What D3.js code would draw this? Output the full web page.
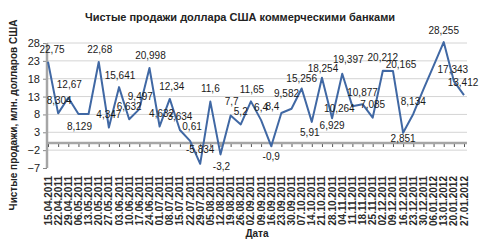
<!DOCTYPE html>
<html>
<head>
<meta charset="utf-8">
<script src="https://cdn.jsdelivr.net/npm/d3@7"></script>
<style>
  body { margin: 0; background: #fff; }
  svg { display: block; font-family: "Liberation Sans", Arial, sans-serif; }
</style>
</head>
<body>
<div id="chart"></div>
<script>
var dates = [
    "15.04.2011", "22.04.2011", "29.04.2011", "06.05.2011", "13.05.2011", "20.05.2011",
    "27.05.2011", "03.06.2011", "10.06.2011", "17.06.2011", "24.06.2011", "01.07.2011",
    "08.07.2011", "15.07.2011", "22.07.2011", "29.07.2011", "05.08.2011", "12.08.2011",
    "19.08.2011", "26.08.2011", "02.09.2011", "09.09.2011", "16.09.2011", "23.09.2011",
    "30.09.2011", "07.10.2011", "14.10.2011", "21.10.2011", "28.10.2011", "04.11.2011",
    "11.11.2011", "18.11.2011", "25.11.2011", "02.12.2011", "09.12.2011", "16.12.2011",
    "23.12.2011", "30.12.2011", "06.01.2012", "13.01.2012", "20.01.2012", "27.01.2012"
];
var sales = [
    22.75, 8.304, 12.67, 8.129, 8.129, 22.68,
    4.347, 15.641, 6.632, 9.497, 20.998, 4.632,
    12.34, 3.634, 0.61, -5.834, 11.6, -3.2,
    7.7, 5.2, 11.65, 6.4, -0.9, 8.4,
    9.582, 15.256, 5.91, 18.254, 6.929, 19.397,
    10.264, 10.877, 7.085, 20.212, 20.165, 2.851,
    8.134, 15.0, 21.6, 28.255, 17.343, 13.412
];
var yTicks = [28, 23, 18, 13, 8, 3, -2, -7];

// where each data label sits relative to its point (null = no label)
var labelNudge = [
    [4, -12], [1, -13], [1, -13], [1, 13], null, [1, -12.5],
    [0, -12.5], [1, -12], [0, -12.5], [1, -13], [1, -13], [2, -13],
    [2, -12], [0, -14], [2, -14], [0, -14], [0, -13], [1, 12],
    [1, -14], [0, -13], [1, -12], [0, -13], [0, 10.5], [-9, -7],
    [-5, -15], [0, -10.5], [-2, 11], [1, -9], [0, 7.5], [6, -14],
    [-13, 2], [0, -12], [0, -13.5], [0, -13.5], [8, -6], [0, 6],
    [0, -12], null, null, [0, -12], [-1, -12], [-1, -13]
];

var width = 480, height = 242;
var svg = d3.select("#chart").append("svg")
    .attr("width", width)
    .attr("height", height);

var x = d3.scalePoint().domain(dates).range([48, 464]);
var y = d3.scaleLinear().domain([-7, 28]).range([168, 43]);

// gridlines
svg.selectAll(".grid")
    .data(yTicks.filter(function(d) { return d != -7; }))
    .enter().append("line")
        .attr("x1", 47).attr("x2", 467)
        .attr("y1", function(d) { return y(d); })
        .attr("y2", function(d) { return y(d); })
        .attr("stroke", "#d4d4d4")
        .attr("stroke-width", 1);

// y axis
var yAxis = svg.append("g")
    .attr("transform", "translate(47,0)")
    .call(d3.axisLeft(y).tickValues(yTicks).tickSize(4).tickPadding(3));
yAxis.select(".domain").remove();
yAxis.selectAll(".tick line").attr("stroke", "#888");
yAxis.selectAll(".tick text")
    .attr("font-size", "11px")
    .attr("font-family", "Liberation Sans, Arial, sans-serif")
    .attr("fill", "#222");
svg.append("line")
    .attr("x1", 47).attr("x2", 47)
    .attr("y1", y(28)).attr("y2", y(-7))
    .attr("stroke", "#a6a6a6")
    .attr("stroke-width", 2.5);

// x axis at zero
var xAxis = svg.append("g")
    .attr("transform", "translate(0," + (y(0) + 1) + ")")
    .call(d3.axisBottom(x).tickSize(3).tickFormat(""));
xAxis.select(".domain").remove();
xAxis.selectAll(".tick line").attr("stroke", "#555");
svg.append("line")
    .attr("x1", 47).attr("x2", 467)
    .attr("y1", y(0)).attr("y2", y(0))
    .attr("stroke", "#a6a6a6")
    .attr("stroke-width", 2.5);

// date labels
svg.selectAll(".datelabel")
    .data(dates)
    .enter().append("text")
        .attr("class", "datelabel")
        .attr("transform", function(d) { return "translate(" + (x(d) + 3.5) + ",176) rotate(-90)"; })
        .attr("text-anchor", "end")
        .attr("font-size", "10px")
        .attr("font-weight", "bold")
        .attr("fill", "#2a2a2a")
        .text(function(d) { return d; });

// line
var linefun = d3.line()
    .x(function(d, i) { return x(dates[i]); })
    .y(function(d) { return y(d); });
svg.append("path")
    .attr("d", linefun(sales))
    .attr("fill", "none")
    .attr("stroke", "#4068a4")
    .attr("stroke-width", 2)
    .attr("stroke-linejoin", "round");

// data labels
svg.selectAll(".vlabel")
    .data(sales.map(function(v, i) { return {v: v, i: i}; })
        .filter(function(d) { return labelNudge[d.i] != null; }))
    .enter().append("text")
        .attr("class", "vlabel")
        .attr("x", function(d) { return x(dates[d.i]) + labelNudge[d.i][0]; })
        .attr("y", function(d) { return y(d.v) + labelNudge[d.i][1]; })
        .attr("dy", "0.35em")
        .attr("text-anchor", "middle")
        .attr("font-size", "10px")
        .attr("fill", "#1a1a1a")
        .text(function(d) { return String(d.v).replace(".", ","); });

// titles
svg.append("text")
    .attr("x", 240).attr("y", 21)
    .attr("text-anchor", "middle")
    .attr("font-size", "11px")
    .attr("font-weight", "bold")
    .attr("fill", "#222")
    .text("Чистые продажи доллара США коммерческими банками");

svg.append("text")
    .attr("transform", "translate(17,115) rotate(-90)")
    .attr("text-anchor", "middle")
    .attr("font-size", "10px")
    .attr("font-weight", "bold")
    .attr("fill", "#222")
    .text("Чистые продажи, млн. долларов США");

svg.append("text")
    .attr("x", 257).attr("y", 237)
    .attr("text-anchor", "middle")
    .attr("font-size", "10px")
    .attr("font-weight", "bold")
    .attr("fill", "#222")
    .text("Дата");
</script>
</body>
</html>
